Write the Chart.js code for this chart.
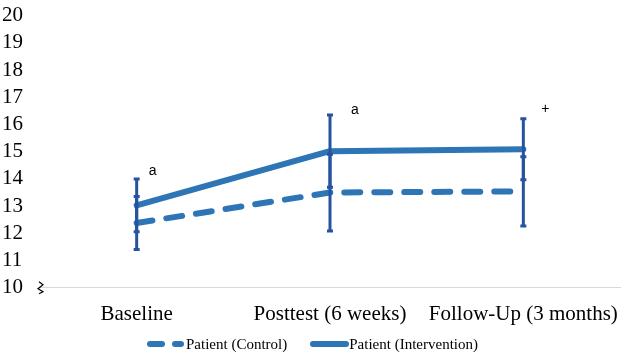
<!DOCTYPE html>
<html>
<head>
  <script src="https://cdn.jsdelivr.net/npm/chart.js"></script>
  <style>
    body { margin: 0; background: #fff; }
    .chart-container { position: relative; width: 623px; height: 355px; }
    .legend {
      position: absolute;
      left: 147px;
      top: 335px;
      display: flex;
      align-items: center;
      font-family: 'Liberation Serif', 'Times New Roman', serif;
      font-size: 15px;
      color: #000;
      line-height: 18px;
    }
    .mark { display: inline-block; height: 6px; border-radius: 3px; background: #2E75B6; }
  </style>
</head>
<body>
  <div class="chart-container">
    <canvas id="chart"></canvas>
    <div class="legend">
      <span class="mark" style="width:18px;margin-right:7px"></span><span class="mark" style="width:12px"></span>
      <span style="margin-left:2px">Patient (Control)</span>
      <span class="mark" style="width:39px;margin-left:23px"></span>
      <span>Patient (Intervention)</span>
    </div>
  </div>
  <script>
    // Data
    const categories = ['Baseline', 'Posttest (6 weeks)', 'Follow-Up (3 months)'];
    const controlMeans = [12.38, 13.5, 13.54];
    const controlErr = [0.97, 1.41, 1.27];
    const interventionMeans = [13.03, 15.02, 15.09];
    const interventionErr = [0.97, 1.33, 1.12];
    const markers = ['a', 'a', '+'];

    const lineColor = '#2E75B6';
    const barColor = '#2553A0';
    const serif = "'Liberation Serif', 'Times New Roman', serif";

    // error bars drawn from the dataset values
    const errorBars = {
      id: 'errorBars',
      afterDatasetsDraw(chart) {
        const ctx = chart.ctx;
        const x = chart.scales.x, y = chart.scales.y;
        const sets = [[controlMeans, controlErr], [interventionMeans, interventionErr]];
        ctx.save();
        ctx.strokeStyle = barColor;
        ctx.lineWidth = 3;
        sets.forEach(([means, errs]) => {
          means.forEach((m, i) => {
            const px = x.getPixelForValue(i);
            const top = y.getPixelForValue(m + errs[i]);
            const bot = y.getPixelForValue(m - errs[i]);
            ctx.beginPath();
            ctx.moveTo(px, top);
            ctx.lineTo(px, bot);
            ctx.moveTo(px - 3, top);
            ctx.lineTo(px + 3, top);
            ctx.moveTo(px - 3, bot);
            ctx.lineTo(px + 3, bot);
            ctx.stroke();
          });
        });
        // significance markers
        const offsets = [[16, -8], [25, -5], [22, -10]];
        ctx.fillStyle = '#000';
        ctx.font = "14px 'Liberation Sans', Arial, sans-serif";
        ctx.textAlign = 'center';
        ctx.textBaseline = 'middle';
        markers.forEach((t, i) => {
          const top = Math.max(controlMeans[i] + controlErr[i], interventionMeans[i] + interventionErr[i]);
          ctx.fillText(t, x.getPixelForValue(i) + offsets[i][0], y.getPixelForValue(top) + offsets[i][1]);
        });
        // axis break symbol
        const by = y.getPixelForValue(10);
        const bx = chart.chartArea.left;
        ctx.strokeStyle = '#000';
        ctx.lineWidth = 1.2;
        ctx.beginPath();
        ctx.moveTo(bx - 1, by - 6);
        ctx.lineTo(bx + 3, by - 3);
        ctx.lineTo(bx - 2, by + 1);
        ctx.lineTo(bx + 3, by + 4);
        ctx.lineTo(bx - 1, by + 6);
        ctx.stroke();
        ctx.restore();
      }
    };

    new Chart(document.getElementById('chart'), {
      type: 'line',
      data: {
        labels: categories,
        datasets: [
          {
            label: 'Patient (Control)',
            data: controlMeans,
            borderColor: lineColor,
            borderWidth: 6,
            borderDash: [16, 14],
            borderCapStyle: 'round',
            borderJoinStyle: 'round',
            pointRadius: 0,
            fill: false
          },
          {
            label: 'Patient (Intervention)',
            data: interventionMeans,
            borderColor: lineColor,
            borderWidth: 6,
            borderCapStyle: 'round',
            borderJoinStyle: 'round',
            pointRadius: 0,
            fill: false
          }
        ]
      },
      options: {
        responsive: true,
        maintainAspectRatio: false,
        animation: false,
        layout: { padding: { left: 2, right: 3, top: -9, bottom: 28 } },
        scales: {
          x: {
            offset: true,
            grid: { display: false, tickLength: 14 },
            border: { color: '#d9d9d9', width: 1 },
            ticks: { color: '#000', font: { family: serif, size: 21 }, padding: 0, maxRotation: 0 }
          },
          y: {
            min: 10,
            max: 20,
            grid: { display: false },
            border: { display: false },
            afterFit(scale) { scale.width = 38; },
            ticks: { stepSize: 1, autoSkip: false, crossAlign: 'far', color: '#000', font: { family: serif, size: 21 } }
          }
        },
        plugins: {
          tooltip: { enabled: false },
          legend: { display: false }
        }
      },
      plugins: [errorBars]
    });
  </script>
</body>
</html>
